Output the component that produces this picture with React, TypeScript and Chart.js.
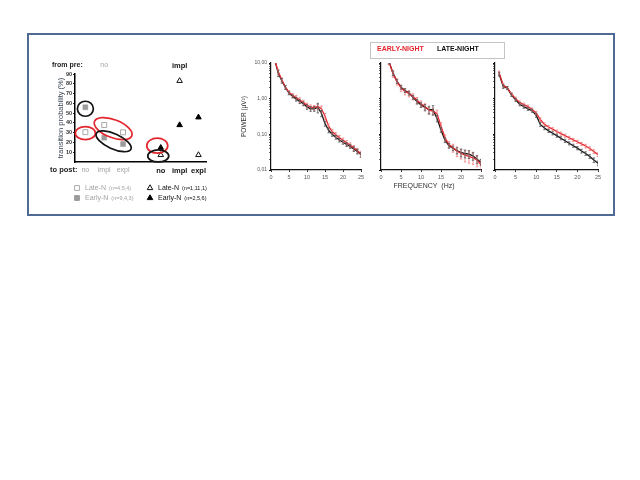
import React, { useEffect, useRef } from "react";
import { Chart, registerables } from "chart.js";

Chart.register(...registerables);

const FONT = '"Liberation Sans", Arial, sans-serif';
const RED = "#e3262e";
const RED_ERR = "#f07878";
const BLACK = "#141414";
const BLACK_ERR = "#555555";
const GRAY_TXT = "#a3a3a3";

/* ---------- left panel: transition probabilities ---------- */
const preGroups = ["no", "impl"];
const postCategories = ["no", "impl", "expl"];
const lateFromNo = [30.5, 37.8, 30.4];
const earlyFromNo = [56, 24.9, 18.4];
const lateFromImpl = [7.2, 83, 7.2];
const earlyFromImpl = [14.6, 37.8, 45.7];
const lateFromNoN = [4, 5, 4];
const earlyFromNoN = [9, 4, 3];
const lateFromImplN = [1, 11, 1];
const earlyFromImplN = [2, 5, 6];
const probTicks = [10, 20, 30, 40, 50, 60, 70, 80, 90];

/* ---------- right panels: power spectra ---------- */
const freqHz = [1, 2, 3, 4, 5, 6, 7, 8, 9, 10, 11, 12, 13, 14, 15, 16, 17, 18, 19, 20, 21, 22, 23, 24, 25];
const freqTicks = [0, 5, 10, 15, 20, 25];
const powerTickValues = [0.01, 0.1, 1, 10];
const powerTickLabels = ["0,01", "0,10", "1,00", "10,00"];

const p1Late = [13, 5.2, 3.2, 2.07, 1.43, 1.16, 0.97, 0.83, 0.72, 0.59, 0.52, 0.52, 0.57, 0.39, 0.2, 0.13, 0.1, 0.083, 0.069, 0.06, 0.052, 0.046, 0.039, 0.033, 0.027];
const p1Early = [12, 5.8, 3.4, 2.1, 1.5, 1.25, 1.08, 0.92, 0.78, 0.65, 0.58, 0.56, 0.6, 0.52, 0.32, 0.17, 0.12, 0.097, 0.08, 0.068, 0.058, 0.05, 0.042, 0.035, 0.028];
const p1LateErr = [0.15, 0.2, 0.15, 0.12, 0.1, 0.1, 0.12, 0.12, 0.12, 0.15, 0.15, 0.15, 0.3, 0.2, 0.15, 0.15, 0.12, 0.12, 0.12, 0.12, 0.12, 0.12, 0.15, 0.15, 0.15];
const p1EarlyErr = [0.15, 0.15, 0.12, 0.12, 0.12, 0.12, 0.15, 0.15, 0.15, 0.15, 0.15, 0.15, 0.15, 0.2, 0.2, 0.15, 0.15, 0.15, 0.15, 0.15, 0.15, 0.15, 0.15, 0.15, 0.2];

const p2Late = [25, 11, 5.2, 3.05, 2.1, 1.7, 1.43, 1.1, 0.83, 0.67, 0.57, 0.49, 0.49, 0.28, 0.133, 0.069, 0.048, 0.041, 0.035, 0.031, 0.029, 0.028, 0.025, 0.02, 0.0165];
const p2Early = [25, 11, 5.0, 3.0, 2.0, 1.6, 1.4, 1.15, 0.9, 0.72, 0.6, 0.48, 0.45, 0.38, 0.17, 0.08, 0.052, 0.042, 0.034, 0.029, 0.026, 0.024, 0.022, 0.019, 0.014];
const p2LateErr = [0.15, 0.15, 0.15, 0.12, 0.12, 0.12, 0.12, 0.12, 0.15, 0.15, 0.2, 0.25, 0.3, 0.2, 0.15, 0.15, 0.15, 0.15, 0.2, 0.25, 0.25, 0.25, 0.25, 0.25, 0.2];
const p2EarlyErr = [0.2, 0.2, 0.2, 0.2, 0.2, 0.2, 0.2, 0.2, 0.2, 0.2, 0.2, 0.2, 0.2, 0.25, 0.25, 0.2, 0.2, 0.25, 0.3, 0.3, 0.35, 0.35, 0.35, 0.35, 0.4];

const p3Late = [4.9, 2.2, 1.98, 1.28, 0.93, 0.7, 0.6, 0.52, 0.46, 0.34, 0.19, 0.15, 0.125, 0.107, 0.092, 0.078, 0.066, 0.056, 0.048, 0.041, 0.034, 0.029, 0.024, 0.019, 0.0155];
const p3Early = [5.3, 2.4, 2.0, 1.35, 1.0, 0.78, 0.68, 0.6, 0.5, 0.4, 0.26, 0.19, 0.16, 0.14, 0.12, 0.105, 0.092, 0.08, 0.07, 0.062, 0.054, 0.047, 0.04, 0.033, 0.027];
const p3LateErr = [0.12, 0.12, 0.1, 0.1, 0.1, 0.1, 0.1, 0.1, 0.1, 0.12, 0.12, 0.1, 0.1, 0.1, 0.1, 0.1, 0.1, 0.1, 0.1, 0.1, 0.12, 0.12, 0.12, 0.15, 0.15];
const p3EarlyErr = [0.12, 0.12, 0.1, 0.1, 0.1, 0.1, 0.1, 0.1, 0.1, 0.1, 0.12, 0.1, 0.1, 0.1, 0.1, 0.1, 0.1, 0.1, 0.1, 0.1, 0.1, 0.12, 0.12, 0.12, 0.12];

/* ellipse annotations: which points they enclose (dataset, index) */
const ellipses = [
  { pts: [[0, 0]], color: RED, rx: 10, ry: 6.5, dx: 0, dy: 1, tilt: 0 },
  { pts: [[1, 0]], color: BLACK, rx: 8, ry: 7.5, dx: 0, dy: 1.5, tilt: 0 },
  { pts: [[0, 1], [0, 2]], color: RED, rx: 20, ry: 9, dx: -0.5, dy: 0, tilt: 0 },
  { pts: [[1, 1], [1, 2]], color: BLACK, rx: 19, ry: 7.5, dx: 0, dy: 0.5, tilt: 0.1 },
  { pts: [[3, 0]], color: RED, rx: 10.5, ry: 7.5, dx: -3.5, dy: -2, tilt: 0 },
  { pts: [[2, 0]], color: BLACK, rx: 10.5, ry: 6, dx: -2.5, dy: 1, tilt: 0 },
];

/* scatter canvas placement on the page */
const SC_L = 30;
const SC_T = 56;

function drawMarker(ctx: CanvasRenderingContext2D, shape: string, x: number, y: number, fill: string, stroke: string) {
  ctx.beginPath();
  if (shape === "rect") {
    ctx.rect(x - 2.4, y - 2.4, 4.8, 4.8);
  } else {
    const r = 3.2;
    ctx.moveTo(x, y - r);
    ctx.lineTo(x + r * 0.866, y + r / 2);
    ctx.lineTo(x - r * 0.866, y + r / 2);
    ctx.closePath();
  }
  ctx.fillStyle = fill;
  ctx.fill();
  ctx.lineWidth = 1;
  ctx.strokeStyle = stroke;
  ctx.stroke();
}

const scatterDecor = {
  id: "scatterDecor",
  afterDraw(chart: any) {
    const ctx: CanvasRenderingContext2D = chart.ctx;
    const xs = chart.scales.x;
    ctx.save();
    ellipses.forEach((el) => {
      const pts = el.pts.map(([d, i]) => chart.getDatasetMeta(d).data[i]);
      const cx = pts.reduce((s: number, p: any) => s + p.x, 0) / pts.length + el.dx;
      const cy = pts.reduce((s: number, p: any) => s + p.y, 0) / pts.length + el.dy;
      let rot = 0;
      if (pts.length > 1) {
        const a = pts[0];
        const b = pts[pts.length - 1];
        rot = Math.atan2(b.y - a.y, b.x - a.x) + el.tilt;
      }
      ctx.beginPath();
      ctx.ellipse(cx, cy, el.rx, el.ry, rot, 0, Math.PI * 2);
      ctx.strokeStyle = el.color;
      ctx.lineWidth = 1.7;
      ctx.stroke();
    });

    const hy = 65.5 - SC_T;
    ctx.textBaseline = "middle";
    ctx.textAlign = "left";
    ctx.fillStyle = "#222";
    ctx.font = `bold 7px ${FONT}`;
    ctx.fillText("from pre:", 52 - SC_L, hy);
    ctx.textAlign = "center";
    ctx.fillStyle = GRAY_TXT;
    ctx.font = `7px ${FONT}`;
    ctx.fillText(preGroups[0], xs.getPixelForValue(1), hy);
    ctx.fillStyle = "#111";
    ctx.font = `bold 7.5px ${FONT}`;
    ctx.fillText(preGroups[1], xs.getPixelForValue(5), hy);

    ctx.textAlign = "left";
    ctx.fillStyle = "#222";
    ctx.font = `bold 7.5px ${FONT}`;
    ctx.fillText("to post:", 50 - SC_L, 170 - SC_T);

    const rows = [
      { x: 77, y: 188, shape: "rect", fill: "#ffffff", stroke: "#a8a8a8", name: "Late-N", n: lateFromNoN, col: GRAY_TXT },
      { x: 77, y: 198, shape: "rect", fill: "#9b9b9b", stroke: "#9b9b9b", name: "Early-N", n: earlyFromNoN, col: GRAY_TXT },
      { x: 150, y: 188, shape: "tri", fill: "#ffffff", stroke: "#111", name: "Late-N", n: lateFromImplN, col: "#111" },
      { x: 150, y: 198, shape: "tri", fill: "#000000", stroke: "#000", name: "Early-N", n: earlyFromImplN, col: "#111" },
    ];
    rows.forEach((r) => {
      const x = r.x - SC_L;
      const y = r.y - SC_T;
      drawMarker(ctx, r.shape, x, y, r.fill, r.stroke);
      ctx.fillStyle = r.col;
      ctx.font = `7px ${FONT}`;
      const tx = x + 8;
      ctx.fillText(r.name, tx, y);
      const w = ctx.measureText(r.name).width;
      ctx.font = `5.5px ${FONT}`;
      ctx.fillText(`(n=${r.n.join(",")})`, tx + w + 3, y + 0.5);
    });
    ctx.restore();
  },
};

function buildScatter(): any {
  const pos = (arr: number[], off: number) => arr.map((v, i) => ({ x: i + off, y: v }));
  return {
    type: "scatter",
    data: {
      datasets: [
        { label: "Late-N no", data: pos(lateFromNo, 0), pointStyle: "rect", pointRadius: 3.5, pointBackgroundColor: "#fff", pointBorderColor: "#a8a8a8", pointBorderWidth: 1 },
        { label: "Early-N no", data: pos(earlyFromNo, 0), pointStyle: "rect", pointRadius: 3.5, pointBackgroundColor: "#9b9b9b", pointBorderColor: "#9b9b9b", pointBorderWidth: 0.5 },
        { label: "Late-N impl", data: pos(lateFromImpl, 4), pointStyle: "triangle", pointRadius: 3.2, pointBackgroundColor: "#fff", pointBorderColor: "#111", pointBorderWidth: 1 },
        { label: "Early-N impl", data: pos(earlyFromImpl, 4), pointStyle: "triangle", pointRadius: 3.2, pointBackgroundColor: "#000", pointBorderColor: "#000", pointBorderWidth: 1 },
      ],
    },
    options: {
      responsive: false,
      animation: false,
      events: [],
      layout: { padding: { left: 26, right: 22, top: 18, bottom: 34 } },
      plugins: { legend: { display: false }, tooltip: { enabled: false } },
      scales: {
        x: {
          type: "linear",
          min: -0.55,
          max: 6.4,
          afterBuildTicks: (s: any) => {
            s.ticks = [0, 1, 2, 4, 5, 6].map((v) => ({ value: v }));
          },
          afterFit: (s: any) => {
            s.height = 14;
          },
          grid: { display: false, drawTicks: false },
          border: { display: true, color: "#000", width: 1.5 },
          ticks: {
            padding: 4,
            autoSkip: false,
            maxRotation: 0,
            callback: (v: number) => postCategories[v < 3 ? v : v - 4],
            color: (c: any) => (c.index < 3 ? GRAY_TXT : "#111"),
            font: (c: any) => (c.index < 3 ? { family: FONT, size: 7, weight: "normal" } : { family: FONT, size: 7.5, weight: "bold" }),
          },
        },
        y: {
          min: 0,
          max: 90,
          afterBuildTicks: (s: any) => {
            s.ticks = probTicks.map((v) => ({ value: v }));
          },
          afterFit: (s: any) => {
            s.width = 19;
          },
          grid: { display: true, drawOnChartArea: false, drawTicks: true, tickLength: 2, tickColor: "#222", tickWidth: 1 },
          border: { display: true, color: "#000", width: 1.5 },
          ticks: { padding: 1, autoSkip: false, color: "#333", font: { family: FONT, size: 5.5, weight: "bold" } },
          title: { display: true, text: "transition probability (%)", padding: 0, color: "#3d4655", font: { family: FONT, size: 7.5 } },
        },
      },
    },
    plugins: [scatterDecor],
  };
}

const errorBars = {
  id: "errorBars",
  afterDatasetsDraw(chart: any) {
    const ctx: CanvasRenderingContext2D = chart.ctx;
    const ys = chart.scales.y;
    const a = chart.chartArea;
    ctx.save();
    ctx.beginPath();
    ctx.rect(a.left, a.top, a.right - a.left, a.bottom - a.top);
    ctx.clip();
    chart.data.datasets.forEach((ds: any, di: number) => {
      const meta = chart.getDatasetMeta(di);
      ctx.strokeStyle = ds.errColor;
      ctx.lineWidth = 0.8;
      meta.data.forEach((pt: any, i: number) => {
        const v = ds.data[i].y;
        const e = v * ds.errors[i];
        const y1 = ys.getPixelForValue(v + e);
        const y2 = ys.getPixelForValue(Math.max(v - e, 1e-4));
        ctx.beginPath();
        ctx.moveTo(pt.x, y1);
        ctx.lineTo(pt.x, y2);
        ctx.moveTo(pt.x - 1.2, y1);
        ctx.lineTo(pt.x + 1.2, y1);
        ctx.moveTo(pt.x - 1.2, y2);
        ctx.lineTo(pt.x + 1.2, y2);
        ctx.stroke();
      });
    });
    ctx.restore();
  },
};

const freqTitle = {
  id: "freqTitle",
  afterDraw(chart: any) {
    if (!chart.options.plugins.freqTitle?.show) return;
    const ctx: CanvasRenderingContext2D = chart.ctx;
    ctx.save();
    ctx.fillStyle = "#333";
    ctx.font = `7px ${FONT}`;
    ctx.textAlign = "center";
    ctx.textBaseline = "middle";
    const a = chart.chartArea;
    ctx.fillText("FREQUENCY  (Hz)", (a.left + a.right) / 2 - 7, a.bottom + 16);
    ctx.restore();
  },
};

function buildPower(late: number[], early: number[], lateErr: number[], earlyErr: number[], yWidth: number, showLabels: boolean, showFreq: boolean): any {
  const pts = (arr: number[]) => arr.map((v, i) => ({ x: freqHz[i], y: v }));
  return {
    type: "line",
    data: {
      datasets: [
        { label: "EARLY-NIGHT", data: pts(early), borderColor: RED, borderWidth: 1.3, pointRadius: 0, tension: 0, errors: earlyErr, errColor: RED_ERR },
        { label: "LATE-NIGHT", data: pts(late), borderColor: BLACK, borderWidth: 1.3, pointRadius: 0, tension: 0, errors: lateErr, errColor: BLACK_ERR },
      ],
    },
    options: {
      responsive: false,
      animation: false,
      events: [],
      layout: { padding: { left: 0, right: 8, top: 13, bottom: 0 } },
      plugins: { legend: { display: false }, tooltip: { enabled: false }, freqTitle: { show: showFreq } },
      scales: {
        x: {
          type: "linear",
          min: 0,
          max: 25,
          afterBuildTicks: (s: any) => {
            s.ticks = freqTicks.map((v) => ({ value: v }));
          },
          afterFit: (s: any) => {
            s.height = 20;
          },
          grid: { display: true, drawOnChartArea: false, tickLength: 2, tickColor: "#333" },
          border: { display: true, color: "#111", width: 1.2 },
          ticks: { padding: 2, autoSkip: false, maxRotation: 0, color: "#555", font: { family: FONT, size: 5.5 } },
        },
        y: {
          type: "logarithmic",
          min: 0.01,
          max: 10,
          afterBuildTicks: (s: any) => {
            const t: any[] = [];
            for (let e = -2; e <= 0; e++) for (let m = 1; m <= 9; m++) t.push({ value: +(m * Math.pow(10, e)).toFixed(4), major: m === 1 });
            t.push({ value: 10, major: true });
            s.ticks = t;
          },
          afterFit: (s: any) => {
            s.width = yWidth;
          },
          grid: {
            display: true,
            drawOnChartArea: false,
            tickLength: 2,
            tickColor: (c: any) => (c.tick && c.tick.major ? "#111" : "#666"),
          },
          border: { display: true, color: "#111", width: 1.2 },
          ticks: {
            padding: 2,
            autoSkip: false,
            color: "#555",
            font: { family: FONT, size: 5 },
            callback: (v: number) => {
              if (!showLabels) return "";
              const k = powerTickValues.findIndex((p) => Math.abs(p - v) / p < 1e-6);
              return k >= 0 ? powerTickLabels[k] : "";
            },
          },
          title: { display: showLabels, text: "POWER (µV²)", padding: { top: 4.5, bottom: 0 }, color: "#333", font: { family: FONT, size: 6.5 } },
        },
      },
    },
    plugins: [errorBars, freqTitle],
  };
}

function ChartCanvas(props: { left: number; top: number; width: number; height: number; build: () => any }) {
  const ref = useRef<HTMLCanvasElement>(null);
  useEffect(() => {
    const chart = new Chart(ref.current as HTMLCanvasElement, props.build());
    return () => chart.destroy();
  }, []);
  return (
    <canvas
      ref={ref}
      width={props.width}
      height={props.height}
      style={{ position: "absolute", left: props.left, top: props.top, width: props.width, height: props.height }}
    />
  );
}

export default function App() {
  return (
    <div style={{ position: "absolute", left: 0, top: 0, width: 640, height: 480, background: "#fff", overflow: "hidden" }}>
      <div
        style={{
          position: "absolute",
          left: 27,
          top: 33,
          width: 588,
          height: 183,
          border: "2px solid #4f6b95",
          boxSizing: "border-box",
        }}
      />
      <ChartCanvas left={SC_L} top={SC_T} width={198} height={154} build={buildScatter} />
      <ChartCanvas left={236} top={50} width={133} height={140} build={() => buildPower(p1Late, p1Early, p1LateErr, p1EarlyErr, 35, true, false)} />
      <ChartCanvas left={371} top={50} width={118} height={140} build={() => buildPower(p2Late, p2Early, p2LateErr, p2EarlyErr, 10, false, true)} />
      <ChartCanvas left={485} top={50} width={121} height={140} build={() => buildPower(p3Late, p3Early, p3LateErr, p3EarlyErr, 10, false, false)} />
      <div
        style={{
          position: "absolute",
          left: 370,
          top: 42,
          width: 135,
          height: 17,
          border: "1px solid #c4c4c4",
          boxSizing: "border-box",
          fontFamily: FONT,
          fontWeight: "bold",
          fontSize: 7,
        }}
      >
        <span style={{ position: "absolute", left: 6, top: 2, lineHeight: "8px", color: RED }}>EARLY-NIGHT</span>
        <span style={{ position: "absolute", left: 66, top: 2, lineHeight: "8px", color: "#111" }}>LATE-NIGHT</span>
      </div>
    </div>
  );
}
